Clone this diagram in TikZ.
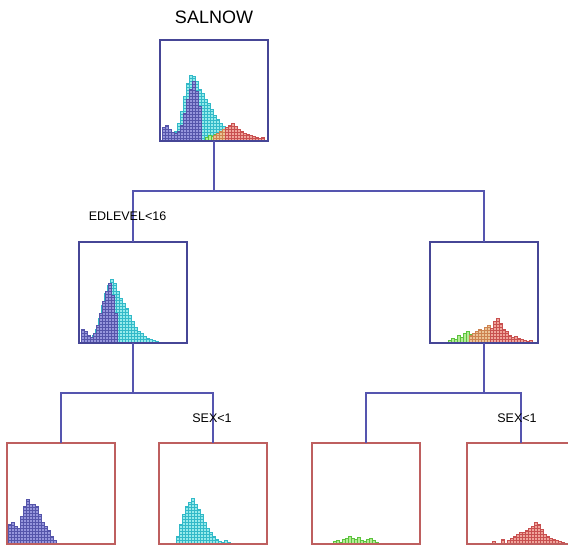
\documentclass[tikz,border=0pt]{standalone}
\usepackage{fontspec}
\setmainfont{Liberation Sans}
\usetikzlibrary{patterns}
\definecolor{boxblue}{RGB}{70,70,150}
\definecolor{linkblue}{RGB}{85,85,175}
\definecolor{boxred}{RGB}{190,95,95}
\definecolor{purF}{RGB}{150,150,220}
\definecolor{purD}{RGB}{85,85,170}
\definecolor{cyaF}{RGB}{150,235,235}
\definecolor{cyaD}{RGB}{50,185,200}
\definecolor{greF}{RGB}{180,235,150}
\definecolor{greD}{RGB}{90,195,60}
\definecolor{oraF}{RGB}{235,195,150}
\definecolor{oraD}{RGB}{205,130,80}
\definecolor{redF}{RGB}{240,165,155}
\definecolor{redD}{RGB}{200,80,80}
\newcommand\hbars[5]{\foreach \hh [count=\ii from 0] in {#5}{\draw[#4] ({#1+\ii*#3},#2) rectangle ++(#3,-\hh);}}
\begin{document}
\begin{tikzpicture}[x=1pt,y=-1pt,
  treebox/.style={draw=boxblue,line width=1.5pt,minimum width=108pt,minimum height=101pt,inner sep=0pt,outer sep=0pt},
  leafbox/.style={treebox,draw=boxred},
  link/.style={draw=linkblue,line width=1.5pt},
  split/.style={font=\fontsize{12.5}{14}\selectfont,anchor=base},
  pur/.style={fill=purF,draw=purD,line width=0.4pt,postaction={pattern=horizontal lines,pattern color=purD}},
  cya/.style={fill=cyaF,draw=cyaD,line width=0.4pt,postaction={pattern=horizontal lines,pattern color=cyaD}},
  gre/.style={fill=greF,draw=greD,line width=0.4pt},
  ora/.style={fill=oraF,draw=oraD,line width=0.4pt,postaction={pattern=horizontal lines,pattern color=oraD}},
  red/.style={fill=redF,draw=redD,line width=0.4pt,postaction={pattern=horizontal lines,pattern color=redD}}]
\useasboundingbox (0,0) rectangle (568,547);
\clip (0,0) rectangle (568,547);
\fill[white] (0,0) rectangle (568,547);

% title
\node[anchor=base,font=\fontsize{18}{20}\selectfont] (title) at (214,23) {SALNOW};

% boxes
\node[treebox] (root) at (214,90.5) {};
\node[treebox] (l) at (133,292.5) {};
\node[treebox] (r) at (484,292.5) {};
\node[leafbox] (ll) at (61,493.5) {};
\node[leafbox] (lr) at (213,493.5) {};
\node[leafbox] (rl) at (366,493.5) {};
\node[leafbox] (rr) at (521,493.5) {};

% histograms: root
\hbars{174}{141}{3}{cya}{10,18,30,45,58,66,65,60,52,48,42,38,32,26,22,18,15,12,10,8}
\hbars{162}{141}{3}{pur}{14,16,12,9,8,10,16,28,42,52,60,50,35}
\hbars{205}{141}{3}{gre}{4,6,5,7,4}
\hbars{213}{141}{3}{ora}{6,8,10,12}
\hbars{225}{141}{3}{red}{14,16,18,15,12,10,8,7,6,5,4,3,4}
% left middle
\hbars{92}{343}{3}{cya}{8,14,25,38,50,58,64,60,52,45,40,35,28,22,16,12,10,7,5,4,3,2}
\hbars{81}{343}{3}{pur}{14,12,8,6,10,18,30,42,52,60,48,30}
% right middle
\hbars{448}{343}{3}{gre}{3,5,4,8,6,10,12,9,7}
\hbars{469}{343}{3}{ora}{8,10,12,14,13,16,18}
\hbars{490}{343}{3}{red}{15,22,25,20,14,12,8,6,7,5,4,3,2,3}
% leaves
\hbars{8}{544}{3}{pur}{20,22,18,16,28,38,45,40,40,38,30,22,18,14,8,4}
\hbars{176}{544}{3}{cya}{8,20,30,38,42,46,40,35,30,22,16,12,8,5,3,2,4,2}
\hbars{333}{544}{3}{gre}{3,4,2,5,6,8,6,5,7,4,3,5,6,4,2}
\hbars{492}{544}{3}{red}{3,0,0,5,0,4,6,8,10,12,12,14,16,18,22,20,15,10,8,6,5,4,3,2}

% redraw box borders on top
\foreach \b in {root,l,r}{\draw[draw=boxblue,line width=1.5pt] (\b.north west) rectangle (\b.south east);}
\foreach \b in {ll,lr,rl,rr}{\draw[draw=boxred,line width=1.5pt] (\b.north west) rectangle (\b.south east);}

% connectors
\coordinate (j1) at (214,191);
\coordinate (j2) at (133,393);
\coordinate (j3) at (484,393);
\draw[link] (root.south) -- (j1);
\draw[link] (l.north) |- (j1) -| (r.north);
\draw[link] (l.south) -- (j2);
\draw[link] (ll.north) |- (j2) -| (lr.north);
\draw[link] (r.south) -- (j3);
\draw[link] (rl.north) |- (j3) -| (rr.north);

% split labels
\node[split] (s1) at (127.5,220) {EDLEVEL<16};
\node[split] (s2) at (212,422) {SEX<1};
\node[split] (s3) at (517,422) {SEX<1};
\end{tikzpicture}
\end{document}
